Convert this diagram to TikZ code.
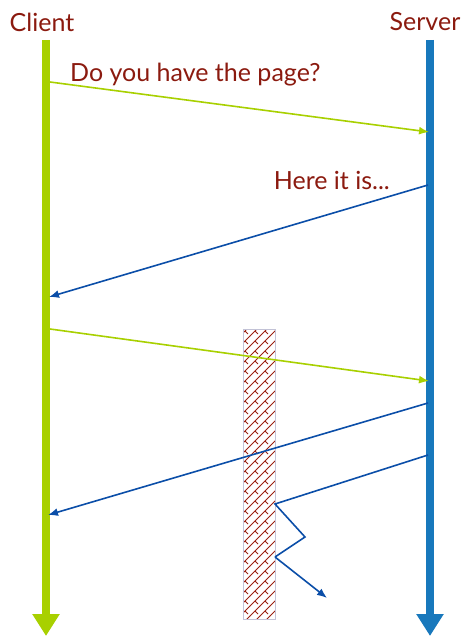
\documentclass[tikz,border=0pt]{standalone}
\usepackage{fontspec}
\setmainfont{Lato}
\usetikzlibrary{arrows.meta,patterns.meta}
\definecolor{txtred}{HTML}{8B1A0F}
\definecolor{cgreen}{HTML}{A8D000}
\definecolor{sblue}{HTML}{1878BC}
\definecolor{mblue}{HTML}{0B4EA8}
\definecolor{hatch}{HTML}{9A2010}
\tikzdeclarepattern{name=brickdiag, type=uncolored,
  bottom left={(-0.5pt,-0.5pt)}, top right={(10.5pt,10.5pt)}, tile size={(10pt,10pt)},
  code={\draw[line width=0.8pt] (0,0)--(10pt,10pt); \draw[line width=0.8pt] (5pt,5pt)--(8pt,2pt);}}
\tikzset{
  lbl/.style={text=txtred, font=\fontsize{25}{28}\selectfont, inner sep=0pt},
  lifeC/.style={draw=cgreen, line width=8pt, -{Triangle[length=22pt,width=26pt]}},
  lifeS/.style={draw=sblue, line width=8pt, -{Triangle[length=22pt,width=26pt]}},
  reqmsg/.style={draw=cgreen, line width=1.6pt, -{Latex[length=10pt,width=8pt]}},
  repmsg/.style={draw=mblue, line width=1.6pt, -{Latex[length=10pt,width=8pt]}},
  repline/.style={draw=mblue, line width=1.6pt},
}
\begin{document}
\begin{tikzpicture}[x=1pt,y=-1pt]
\useasboundingbox (0,0) rectangle (466,636);
% wall
\node (wall) [draw=blue!20!gray!40, line width=0.6pt, pattern={brickdiag}, pattern color=hatch,
  minimum width=32pt, minimum height=290pt, inner sep=0pt, anchor=north west] at (243,329) {};
% titles
\node (client) [lbl] at (42,22) {Client};
\node (server) [lbl] at (425,22) {Server};
% lifelines
\coordinate (ctop) at (46,40);
\coordinate (cbot) at (46,636);
\coordinate (stop) at (430,40);
\coordinate (sbot) at (430,636);
\draw[lifeC] (ctop) -- (cbot);
\draw[lifeS] (stop) -- (sbot);
% messages
\coordinate (a1) at (50,82);   \coordinate (b1) at (429,132);
\coordinate (a2) at (428,185); \coordinate (b2) at (49,297);
\coordinate (a3) at (50,329);  \coordinate (b3) at (429,381);
\coordinate (a4) at (428,403); \coordinate (b4) at (48,515);
\coordinate (a5) at (428,455); \coordinate (z1) at (275,504);
\coordinate (z2) at (305,537); \coordinate (z3) at (275,557);
\coordinate (z4) at (327,598);
\draw[reqmsg] (a1) -- (b1);
\draw[repmsg] (a2) -- (b2);
\draw[reqmsg] (a3) -- (b3);
\draw[repmsg] (a4) -- (b4);
\draw[repline] (a5) -- (z1) -- (z2) -- (z3);
\draw[repmsg] (z3) -- (z4);
% labels
\node (q) [lbl, anchor=west] at (70,75) {Do you have the page?};
\node (r) [lbl, anchor=east] at (390,180) {Here it is...};
\end{tikzpicture}
\end{document}
